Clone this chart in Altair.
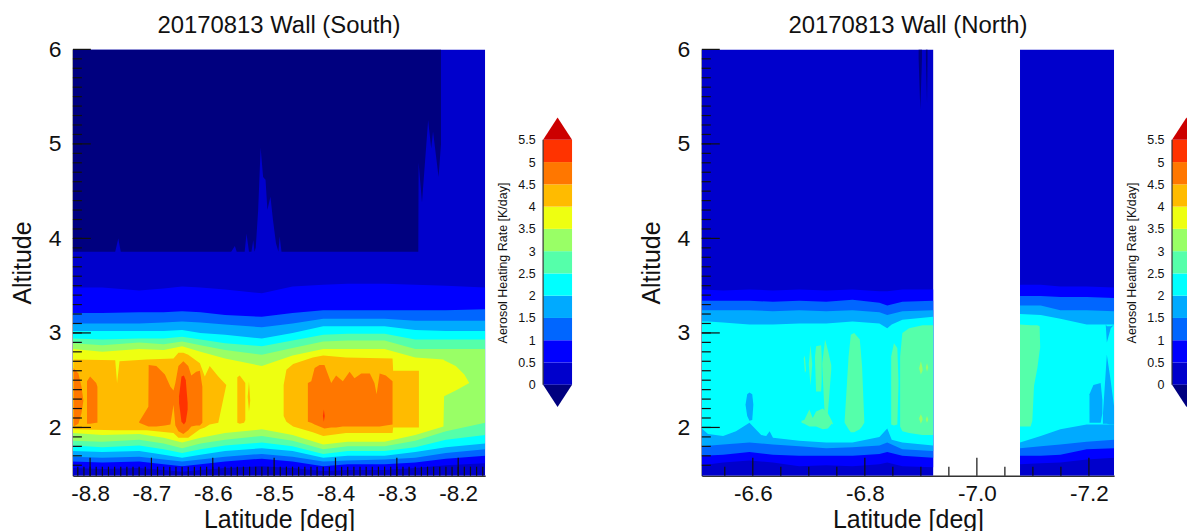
import altair as alt
import pandas as pd

FONT = "Liberation Sans"
LEVELS = ["below", "0", "0.5", "1", "1.5", "2", "2.5", "3", "3.5", "4", "4.5", "5", "above"]
COLORS = ["#00007F", "#0000CC", "#0000FF", "#0066FF", "#00AAFF", "#00FFFF", "#55FFAA",
          "#99FF66", "#EEFF11", "#FFBB00", "#FF7700", "#FF3300", "#CC0000"]

TITLE_S = "20170813 Wall (South)"
TITLE_N = "20170813 Wall (North)"
S_DOMAIN = [-8.828, -8.156]
N_DOMAIN = [-6.509, -7.245]
ALT_DOMAIN = [1.49, 6.0]

# ---------- South panel: contour bounds (altitude) per latitude ----------
S_LAT = [-8.828, -8.78, -8.72, -8.68, -8.65, -8.62, -8.58, -8.52, -8.47, -8.42, -8.38, -8.32, -8.27, -8.22, -8.156]
S_05_HI = [3.48, 3.48, 3.45, 3.47, 3.49, 3.48, 3.46, 3.42, 3.49, 3.51, 3.52, 3.52, 3.51, 3.50, 3.48]
S_05_LO = [1.57, 1.56, 1.57, 1.55, 1.53, 1.55, 1.57, 1.59, 1.57, 1.54, 1.55, 1.55, 1.57, 1.60, 1.62]
S_10_HI = [3.21, 3.21, 3.22, 3.22, 3.23, 3.22, 3.19, 3.17, 3.21, 3.24, 3.24, 3.24, 3.24, 3.24, 3.25]
S_10_LO = [1.64, 1.63, 1.64, 1.61, 1.59, 1.61, 1.64, 1.67, 1.64, 1.59, 1.61, 1.61, 1.63, 1.67, 1.70]
S_15_HI = [3.10, 3.10, 3.10, 3.11, 3.12, 3.11, 3.09, 3.06, 3.10, 3.15, 3.15, 3.15, 3.13, 3.13, 3.13]
S_15_LO = [1.69, 1.68, 1.69, 1.66, 1.64, 1.66, 1.69, 1.72, 1.69, 1.64, 1.65, 1.66, 1.68, 1.73, 1.77]
S_20_HI = [3.02, 3.02, 3.02, 3.02, 3.03, 3.00, 2.98, 2.94, 3.00, 3.07, 3.07, 3.07, 3.03, 3.02, 3.02]
S_20_LO = [1.75, 1.74, 1.75, 1.71, 1.68, 1.71, 1.75, 1.78, 1.75, 1.68, 1.70, 1.70, 1.74, 1.79, 1.83]
S_25_HI = [2.94, 2.93, 2.94, 2.94, 2.96, 2.93, 2.89, 2.86, 2.92, 2.98, 2.99, 2.99, 2.93, 2.93, 2.93]
S_25_LO = [1.81, 1.79, 1.81, 1.77, 1.73, 1.77, 1.81, 1.84, 1.80, 1.72, 1.75, 1.75, 1.79, 1.87, 1.92]
S_30_HI = [2.89, 2.87, 2.90, 2.88, 2.91, 2.87, 2.82, 2.77, 2.84, 2.91, 2.92, 2.92, 2.83, 2.83, 2.83]
S_30_LO = [1.86, 1.85, 1.87, 1.83, 1.78, 1.83, 1.87, 1.91, 1.86, 1.77, 1.80, 1.80, 1.86, 1.96, 2.05]

S_35_LAT = [-8.828, -8.78, -8.72, -8.68, -8.65, -8.62, -8.58, -8.52, -8.47, -8.42, -8.38, -8.32, -8.27, -8.224, -8.223, -8.204, -8.19, -8.182]
S_35_HI = [2.83, 2.80, 2.83, 2.82, 2.86, 2.80, 2.73, 2.65, 2.76, 2.83, 2.83, 2.83, 2.74, 2.72, 2.71, 2.65, 2.56, 2.47]
S_35_LO = [1.94, 1.92, 1.93, 1.89, 1.84, 1.89, 1.94, 1.98, 1.92, 1.82, 1.85, 1.85, 1.92, 2.01, 2.33, 2.39, 2.44, 2.47]

S_NAVY_LAT = [-8.828, -8.759, -8.754, -8.750, -8.570, -8.564, -8.561, -8.548, -8.545, -8.541, -8.537, -8.534, -8.532, -8.530,
              -8.526, -8.522, -8.518, -8.514, -8.511, -8.506, -8.502, -8.497, -8.493, -8.491, -8.488, -8.265, -8.2645, -8.259,
              -8.249, -8.244, -8.241, -8.232, -8.228]
S_NAVY_LO = [3.86, 3.86, 4.00, 3.86, 3.86, 3.92, 3.86, 3.86, 4.05, 3.86, 3.86, 3.98, 3.86, 3.90,
             4.30, 4.96, 4.65, 4.62, 4.30, 4.44, 4.20, 3.95, 3.86, 4.02, 3.86, 3.86, 4.80, 4.38,
             5.25, 4.95, 5.13, 4.65, 5.00]

S_40A = ([-8.827, -8.759, -8.756, -8.752, -8.708, -8.664, -8.656, -8.648, -8.640, -8.621, -8.613, -8.605, -8.591, -8.578],
         [2.72, 2.71, 2.47, 2.70, 2.72, 2.73, 2.79, 2.79, 2.77, 2.68, 2.54, 2.65, 2.54, 2.45],
         [1.98, 1.97, 1.97, 1.97, 1.97, 1.94, 1.89, 1.89, 1.89, 1.98, 2.00, 2.03, 2.05, 2.45])
S_40B = ([-8.560, -8.556, -8.549, -8.547], [2.53, 2.55, 2.49, 2.47], [2.05, 2.04, 2.05, 2.08])
S_40C = ([-8.543, -8.541, -8.539], [2.33, 2.49, 2.29], [2.32, 2.17, 2.28])
S_40D = ([-8.4845, -8.480, -8.469, -8.437, -8.420, -8.383, -8.307, -8.306, -8.264],
         [2.45, 2.61, 2.67, 2.74, 2.76, 2.74, 2.73, 2.60, 2.60],
         [2.12, 2.06, 2.01, 1.95, 1.91, 1.94, 1.94, 2.00, 2.00])
S_45A = ([-8.827, -8.819, -8.814, -8.811], [2.63, 2.57, 2.43, 2.29], [2.01, 2.04, 2.15, 2.28])
S_45B = ([-8.805, -8.800, -8.790, -8.788], [2.49, 2.54, 2.47, 2.43], [2.04, 2.04, 2.05, 2.05])
S_45C = ([-8.720, -8.705, -8.7045, -8.692, -8.678, -8.669, -8.664, -8.661, -8.656, -8.648, -8.640, -8.635, -8.627, -8.621, -8.617],
         [2.06, 2.22, 2.66, 2.65, 2.56, 2.43, 2.39, 2.47, 2.65, 2.70, 2.65, 2.55, 2.59, 2.60, 2.43],
         [2.05, 2.01, 2.01, 2.01, 2.02, 2.03, 2.24, 2.02, 1.96, 1.93, 1.97, 2.01, 2.02, 2.02, 2.05])
S_45D = ([-8.445, -8.4395, -8.434, -8.426, -8.418, -8.407, -8.399, -8.388, -8.377, -8.369, -8.358, -8.344, -8.3365, -8.333, -8.328, -8.318, -8.307],
         [2.47, 2.49, 2.63, 2.66, 2.66, 2.47, 2.55, 2.49, 2.59, 2.52, 2.57, 2.57, 2.47, 2.35, 2.57, 2.55, 2.49],
         [2.06, 2.05, 2.03, 2.01, 1.99, 2.00, 2.00, 2.01, 2.01, 2.01, 2.01, 2.01, 2.01, 2.01, 2.01, 2.02, 2.03])
S_50A = ([-8.655, -8.651, -8.647, -8.644, -8.641], [2.33, 2.54, 2.55, 2.50, 2.26], [2.26, 2.06, 2.03, 2.06, 2.19])
S_50B = ([-8.4205, -8.419, -8.4175], [2.12, 2.19, 2.12], [2.12, 2.06, 2.12])

# ---------- North panel ----------
N_LAT1 = [-6.509, -6.547, -6.594, -6.636, -6.683, -6.731, -6.778, -6.826, -6.840, -6.867, -6.922]
N1_05_HI = [3.46, 3.45, 3.46, 3.45, 3.46, 3.45, 3.46, 3.44, 3.44, 3.46, 3.46]
N1_05_LO = [1.60, 1.63, 1.65, 1.63, 1.59, 1.60, 1.59, 1.61, 1.63, 1.59, 1.58]
N1_10_HI = [3.34, 3.34, 3.34, 3.33, 3.34, 3.33, 3.35, 3.32, 3.29, 3.33, 3.34]
N1_10_LO = [1.70, 1.71, 1.74, 1.71, 1.70, 1.70, 1.70, 1.72, 1.74, 1.70, 1.68]
N1_15_HI = [3.24, 3.24, 3.24, 3.23, 3.24, 3.23, 3.24, 3.22, 3.19, 3.23, 3.24]
N1_15_LO = [1.80, 1.82, 1.84, 1.82, 1.80, 1.78, 1.79, 1.81, 1.84, 1.77, 1.75]
N1_20_LAT = [-6.509, -6.520, -6.547, -6.570, -6.594, -6.615, -6.624, -6.630, -6.636, -6.683, -6.731, -6.778, -6.826, -6.840, -6.848, -6.867, -6.922]
N1_20_HI = [3.12, 3.12, 3.11, 3.10, 3.09, 3.09, 3.09, 3.09, 3.09, 3.10, 3.10, 3.12, 3.10, 3.05, 3.09, 3.14, 3.17]
N1_20_LO = [1.99, 1.93, 1.91, 1.96, 2.05, 1.92, 1.91, 1.96, 1.89, 1.86, 1.84, 1.84, 1.90, 1.99, 1.87, 1.84, 1.81]

N_LAT2 = [-7.077, -7.114, -7.149, -7.196, -7.245]
N2_05_HI = [3.51, 3.51, 3.49, 3.49, 3.48]
N2_05_LO = [1.61, 1.62, 1.63, 1.66, 1.68]
N2_10_HI = [3.39, 3.39, 3.38, 3.38, 3.37]
N2_10_LO = [1.70, 1.70, 1.71, 1.77, 1.78]
N2_15_HI = [3.29, 3.29, 3.24, 3.24, 3.23]
N2_15_LO = [1.78, 1.80, 1.82, 1.85, 1.87]
N2_20_HI = [3.20, 3.19, 3.15, 3.09, 3.09]
N2_20_LO = [1.84, 1.91, 1.98, 2.03, 2.03]

N_NAVY1 = ([-6.896, -6.899, -6.902], [6.0, 6.0, 6.0], [5.9, 5.36, 5.9])
N_NAVY2 = ([-6.909, -6.911, -6.912], [6.0, 6.0, 6.0], [5.9, 5.43, 5.9])

N_25 = [
    ([-6.691, -6.693, -6.695], [2.73, 2.76, 2.61], [2.73, 2.58, 2.60]),
    ([-6.700, -6.703, -6.706], [2.68, 2.87, 2.68], [2.66, 2.44, 2.66]),
    ([-6.711, -6.713, -6.722, -6.723], [2.75, 2.86, 2.87, 2.75], [2.72, 2.38, 2.38, 2.50]),
    ([-6.724, -6.729, -6.734, -6.740], [2.68, 2.93, 2.82, 2.66], [2.65, 2.05, 2.15, 2.61]),
    ([-6.687, -6.692, -6.701, -6.707, -6.713, -6.725, -6.734, -6.741, -6.743],
     [2.07, 2.08, 2.19, 2.10, 2.17, 2.20, 2.15, 2.07, 2.04],
     [2.05, 2.04, 2.01, 2.01, 2.01, 1.98, 1.99, 2.04, 2.03]),
    ([-6.764, -6.771, -6.775, -6.781, -6.791, -6.795, -6.799],
     [2.07, 2.75, 2.98, 3.00, 2.93, 2.65, 2.07],
     [2.05, 1.98, 1.95, 1.95, 1.98, 2.01, 2.05]),
    ([-6.847, -6.852, -6.858, -6.860], [2.75, 2.89, 2.84, 2.50], [2.03, 2.02, 2.03, 2.44]),
    ([-6.863, -6.867, -6.879, -6.903, -6.922], [2.75, 3.00, 3.05, 3.08, 3.08], [2.01, 1.96, 1.94, 1.92, 1.92]),
    ([-7.077, -7.096, -7.099, -7.102, -7.108, -7.112, -7.113],
     [3.09, 3.08, 3.08, 3.08, 3.08, 3.07, 2.86],
     [2.01, 2.01, 2.07, 2.44, 2.63, 2.81, 2.84]),
]
N_30 = [
    ([-6.897, -6.900, -6.903], [2.63, 2.70, 2.63], [2.62, 2.56, 2.60]),
    ([-6.909, -6.911, -6.913], [2.64, 2.68, 2.64], [2.63, 2.59, 2.63]),
    ([-6.897, -6.900, -6.903], [2.10, 2.14, 2.10], [2.09, 2.04, 2.08]),
    ([-6.909, -6.911, -6.913], [2.09, 2.12, 2.09], [2.08, 2.05, 2.08]),
]
N_HOLES = [
    ([-7.201, -7.208, -7.221, -7.224], [2.35, 2.45, 2.47, 2.29], [2.05, 2.05, 2.05, 2.15]),
    ([-7.225, -7.232, -7.238, -7.245], [2.14, 2.77, 2.53, 2.22], [2.04, 2.04, 2.03, 2.03]),
    ([-7.230, -7.232, -7.239, -7.244], [3.09, 3.07, 3.07, 3.08], [3.09, 2.90, 3.05, 3.08]),
    ([-6.587, -6.590, -6.594, -6.599, -6.601], [2.24, 2.35, 2.37, 2.35, 2.24], [2.24, 2.12, 2.07, 2.08, 2.24]),
]

# ---------- Ticks and colour bar ----------
S_MAJOR = [-8.8, -8.7, -8.6, -8.5, -8.4, -8.3, -8.2]
S_MINOR = [round(-8.82 + i * 0.01, 2) for i in range(67)]
N_MAJOR = [-6.6, -6.8, -7.0, -7.2]
N_MINOR = [-6.55, -6.65, -6.7, -6.75, -6.85, -6.9, -6.95, -7.05, -7.1, -7.15]
Y_MAJOR = [2, 3, 4, 5, 6]
Y_MINOR = [round(1.6 + i * 0.1, 1) for i in range(44)]
BAR_LOW = [0, 0.5, 1, 1.5, 2, 2.5, 3, 3.5, 4, 4.5, 5]
BAR_TICKS = [0, 0.5, 1, 1.5, 2, 2.5, 3, 3.5, 4, 4.5, 5, 5.5]
BAR_LEVELS = ["0", "0.5", "1", "1.5", "2", "2.5", "3", "3.5", "4", "4.5", "5"]
CAP_X = [0, 0.5, 1]
CAP_TOP = [5.5, 6.0, 5.5]
CAP_BOTTOM = [0, -0.5, 0]
BAR_TITLE = "Aerosol Heating Rate [K/day]"

W, H = 413, 427


def frame(blobs):
    rows = []
    for i, (level, lat, hi, lo) in enumerate(blobs):
        for a, b, c in zip(lat, hi, lo):
            rows.append({"lat": a, "top": b, "bottom": c, "level": level, "blob": i})
    return pd.DataFrame(rows)


s_blobs = [
    ("0", S_DOMAIN, [6.0, 6.0], [1.49, 1.49]),
    ("below", S_NAVY_LAT, [6.0] * len(S_NAVY_LAT), S_NAVY_LO),
    ("0.5", S_LAT, S_05_HI, S_05_LO),
    ("1", S_LAT, S_10_HI, S_10_LO),
    ("1.5", S_LAT, S_15_HI, S_15_LO),
    ("2", S_LAT, S_20_HI, S_20_LO),
    ("2.5", S_LAT, S_25_HI, S_25_LO),
    ("3", S_LAT, S_30_HI, S_30_LO),
    ("3.5", S_35_LAT, S_35_HI, S_35_LO),
    ("4", *S_40A), ("4", *S_40B), ("4", *S_40C), ("4", *S_40D),
    ("4.5", *S_45A), ("4.5", *S_45B), ("4.5", *S_45C), ("4.5", *S_45D),
    ("5", *S_50A), ("5", *S_50B),
]
n_blobs = [
    ("0", [-6.509, -6.922], [6.0, 6.0], [1.49, 1.49]),
    ("0", [-7.077, -7.245], [6.0, 6.0], [1.49, 1.49]),
    ("below", *N_NAVY1), ("below", *N_NAVY2),
    ("0.5", N_LAT1, N1_05_HI, N1_05_LO), ("0.5", N_LAT2, N2_05_HI, N2_05_LO),
    ("1", N_LAT1, N1_10_HI, N1_10_LO), ("1", N_LAT2, N2_10_HI, N2_10_LO),
    ("1.5", N_LAT1, N1_15_HI, N1_15_LO), ("1.5", N_LAT2, N2_15_HI, N2_15_LO),
    ("2", N1_20_LAT, N1_20_HI, N1_20_LO), ("2", N_LAT2, N2_20_HI, N2_20_LO),
] + [("2.5", *b) for b in N_25] + [("3", *b) for b in N_30] + [("1.5", *b) for b in N_HOLES]

color = alt.Color("level:N", scale=alt.Scale(domain=LEVELS, range=COLORS), legend=None)


def panel(blobs, domain, major, minor, title):
    xs = alt.Scale(domain=domain, nice=False, zero=False)
    ys = alt.Scale(domain=ALT_DOMAIN, nice=False, zero=False)
    areas = alt.Chart(frame(blobs)).mark_area(clip=True, interpolate="linear").encode(
        x=alt.X("lat:Q", scale=xs, title="Latitude [deg]",
                axis=alt.Axis(values=major, ticks=False, grid=False, domainColor="#333", domainWidth=1.5,
                              labelFontSize=22.5, labelFont=FONT, labelColor="#111", labelPadding=7,
                              labelExpr="replace(format(datum.value,'.1f'),'\u2212','-')",
                              titleFontSize=25, titleFont=FONT, titleFontWeight="normal", titleColor="#111",
                              titlePadding=2)),
        y=alt.Y("bottom:Q", scale=ys, title="Altitude", stack=None,
                axis=alt.Axis(values=Y_MAJOR, ticks=False, grid=False, domainColor="#333", domainWidth=1.5,
                              labelFontSize=23, labelFont=FONT, labelColor="#111", labelPadding=12, format="d",
                              titleFontSize=25, titleFont=FONT, titleFontWeight="normal", titleColor="#111",
                              titlePadding=13)),
        y2="top:Q",
        color=color,
        detail="blob:N",
    )

    def xticks(vals, ln, w):
        return alt.Chart(pd.DataFrame({"t": vals})).mark_rule(color="#111", strokeWidth=w).encode(
            x=alt.X("t:Q", scale=xs), y=alt.value(H), y2=alt.value(H - ln))

    def yticks(vals, ln, w):
        return alt.Chart(pd.DataFrame({"t": vals})).mark_rule(color="#111", strokeWidth=w).encode(
            y=alt.Y("t:Q", scale=ys), x=alt.value(0), x2=alt.value(ln))

    return alt.layer(areas, xticks(minor, 9, 1.2), xticks(major, 18, 1.2),
                     yticks(Y_MINOR, 9, 1.2), yticks(Y_MAJOR, 18, 1.2)).properties(
        width=W, height=H,
        title=alt.TitleParams(title, fontSize=23.9, font=FONT, fontWeight="normal", color="#111",
                              anchor="middle", offset=1))


def colorbar():
    ys = alt.Scale(domain=[-2.04, 7.53], nice=False, zero=False)
    xs = alt.Scale(domain=[0, 1], nice=False, zero=False)
    bar_axis = alt.Axis(values=BAR_TICKS, ticks=False, domain=False, grid=False, labelOverlap=False,
                        labelFontSize=12.5, labelFont=FONT, labelColor="#111", labelPadding=8,
                        labelExpr="'' + datum.value",
                        titleFontSize=12.5, titleFont=FONT, titleFontWeight="normal", titleColor="#111",
                        titlePadding=8)
    bands = pd.DataFrame({"low": BAR_LOW, "high": [v + 0.5 for v in BAR_LOW], "level": BAR_LEVELS,
                          "x0": 0, "x1": 1})
    rect = alt.Chart(bands).mark_rect().encode(
        x=alt.X("x0:Q", scale=xs, axis=None), x2="x1:Q",
        y=alt.Y("low:Q", scale=ys, title=BAR_TITLE, axis=bar_axis),
        y2="high:Q",
        color=color,
    )
    top = alt.Chart(pd.DataFrame({"x": CAP_X, "y": [5.5, 5.5, 5.5], "y2": CAP_TOP, "level": "above"})).mark_area().encode(
        x=alt.X("x:Q", scale=xs, axis=None), y=alt.Y("y:Q", scale=ys, stack=None, title=BAR_TITLE, axis=bar_axis), y2="y2:Q", color=color)
    bottom = alt.Chart(pd.DataFrame({"x": CAP_X, "y": [0, 0, 0], "y2": CAP_BOTTOM, "level": "below"})).mark_area().encode(
        x=alt.X("x:Q", scale=xs, axis=None), y=alt.Y("y:Q", scale=ys, stack=None, title=BAR_TITLE, axis=bar_axis), y2="y2:Q", color=color)
    edge = alt.Chart(pd.DataFrame({"a": [0], "b": [5.5]})).mark_rule(color="#333", strokeWidth=1.2).encode(
        x=alt.value(0), y=alt.Y("a:Q", scale=ys, title=BAR_TITLE, axis=bar_axis), y2="b:Q")
    return alt.layer(rect, top, bottom, edge).properties(width=29, height=H)


spacer = alt.Chart(pd.DataFrame({"a": [0]})).mark_point(opacity=0).encode(
    x=alt.X("a:Q", axis=None), y=alt.Y("a:Q", axis=None)).properties(width=45, height=H)

chart = alt.hconcat(
    panel(s_blobs, S_DOMAIN, S_MAJOR, S_MINOR, TITLE_S), colorbar(), spacer,
    panel(n_blobs, N_DOMAIN, N_MAJOR, N_MINOR, TITLE_N), colorbar(),
    spacing=11,
).resolve_scale(x="independent", y="independent").properties(
    padding={"left": 2, "top": 5, "right": -14, "bottom": 0}
).configure_view(stroke=None)

chart.save("out.html", embed_options={"renderer": "svg", "actions": False})
